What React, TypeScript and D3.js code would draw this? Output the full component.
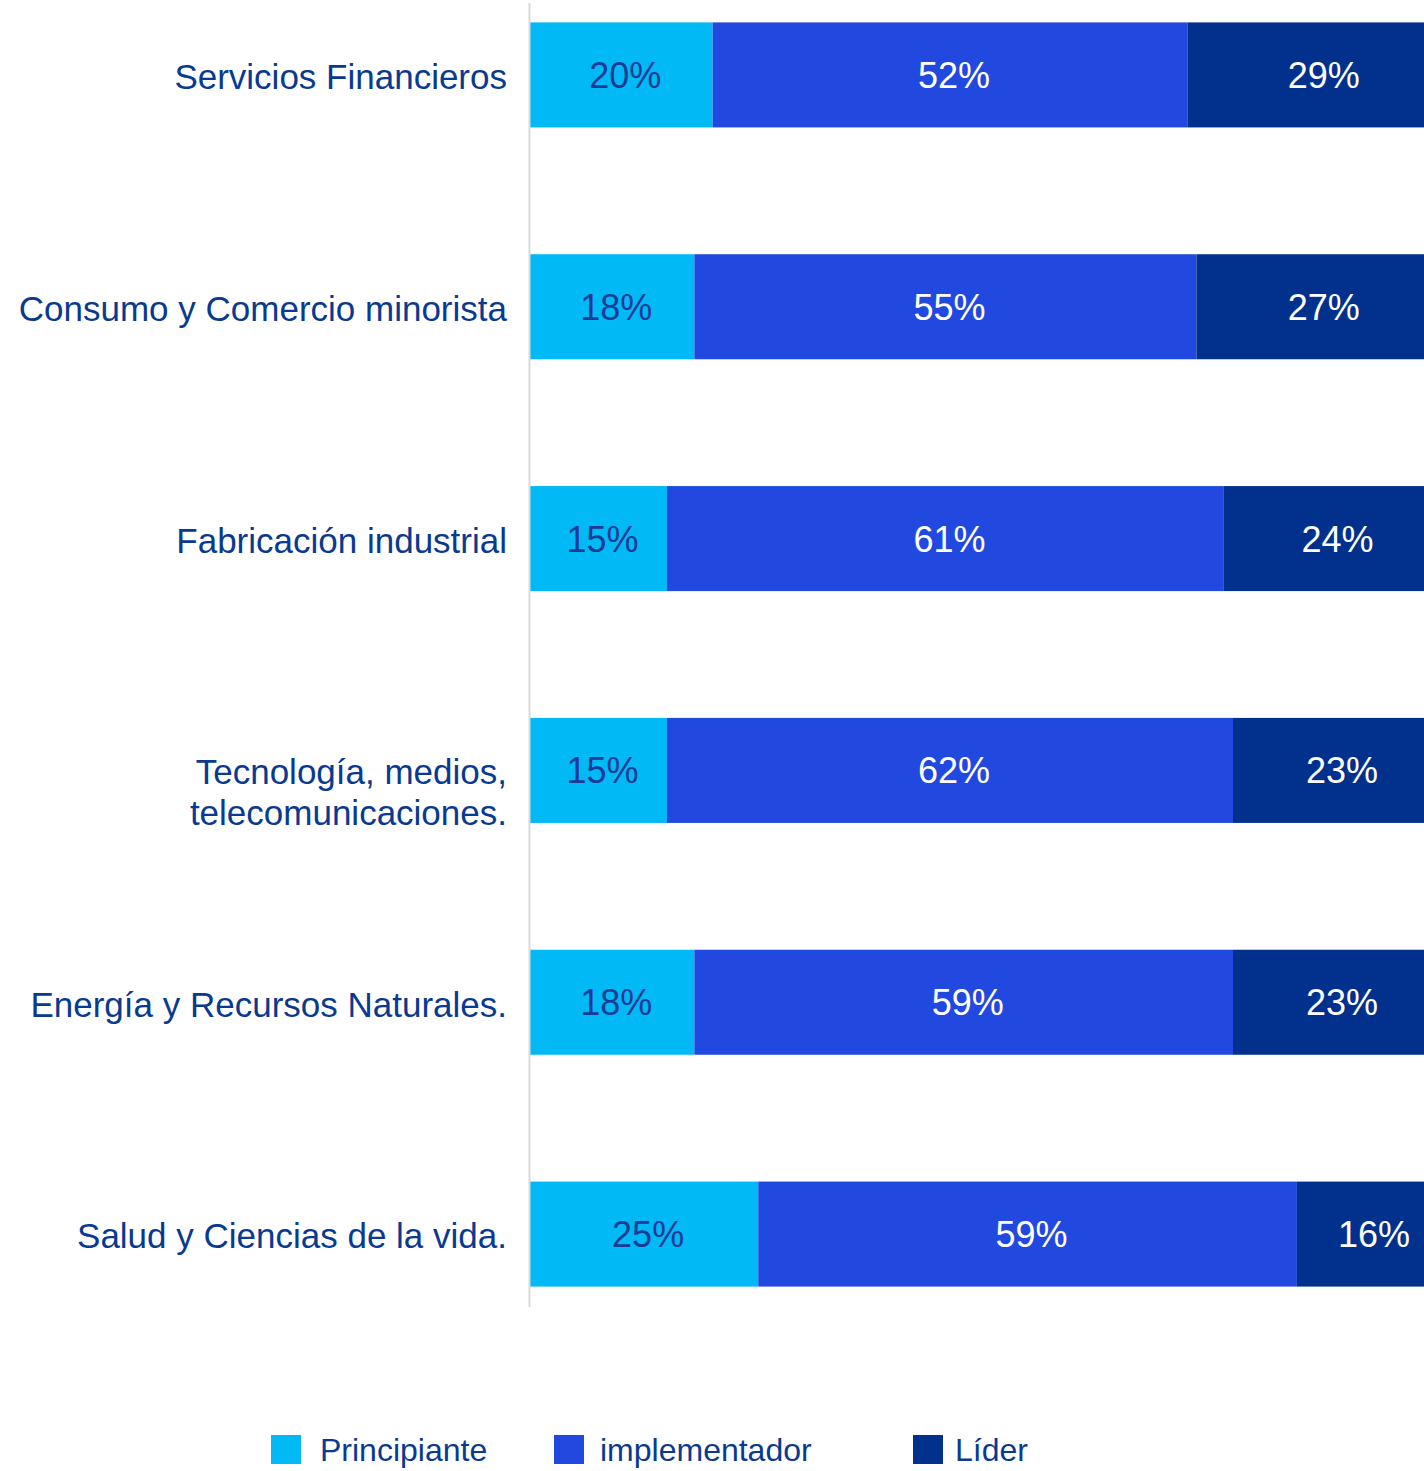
import React from "react";
import * as d3 from "d3";

const categories = [
  ["Servicios Financieros"],
  ["Consumo y Comercio minorista"],
  ["Fabricación industrial"],
  ["Tecnología, medios,", "telecomunicaciones."],
  ["Energía y Recursos Naturales."],
  ["Salud y Ciencias de la vida."],
];
const principiante = [20, 18, 15, 15, 18, 25];
const implementador = [52, 55, 61, 62, 59, 59];
const lider = [29, 27, 24, 23, 23, 16];
const seriesNames = ["Principiante", "implementador", "Líder"];
const colors = ["#00b9f5", "#2149e0", "#01318c"];
const textColors = ["#1a3c96", "#ffffff", "#ffffff"];
const labelColor = "#0a3a8f";

export default function App() {
  const W = 1424, H = 1471;
  const keys = categories.map((c) => c.join(" "));
  const rows = keys.map((k, i) => ({ key: k, s0: principiante[i], s1: implementador[i], s2: lider[i] }));
  const stack = d3.stack<any>().keys(["s0", "s1", "s2"])(rows);
  const x = d3.scaleLinear().domain([0, 100]).range([530, 1443]);
  const y = d3.scaleBand().domain(keys).range([-41, 1350]).paddingInner(0.547).paddingOuter(0.2735);
  const bw = y.bandwidth();
  const font = "'Liberation Sans', Arial, sans-serif";
  const legendX = [271, 554, 913];
  const legendTextX = [320, 600, 955];

  return (
    <div style={{ position: "absolute", left: 0, top: 0 }}>
      <svg width={W} height={H} style={{ display: "block", background: "#fff" }} fontFamily={font}>
        {stack.map((layer, si) => (
          <g key={si}>
            {layer.map((d, i) => {
              const x0 = x(d[0]), x1 = x(d[1]);
              const yy = y(keys[i])!;
              return (
                <g key={i}>
                  <rect x={x0} y={yy} width={x1 - x0} height={bw} fill={colors[si]} />
                  <text
                    x={(x0 + x1) / 2 + 4}
                    y={yy + bw / 2}
                    dy="0.36em"
                    textAnchor="middle"
                    fontSize={36}
                    fill={textColors[si]}
                  >
                    {`${d[1] - d[0]}%`}
                  </text>
                </g>
              );
            })}
          </g>
        ))}
        <line x1={529.5} x2={529.5} y1={3} y2={1307} stroke="#d9d9d9" strokeWidth={2} />
        {categories.map((lines, i) => {
          const n = lines.length;
          const cy = y(keys[i])! + bw / 2 + (n > 1 ? 22 : 2);
          const lh = 41;
          return (
            <text key={i} x={507} textAnchor="end" fontSize={35} fill={labelColor}>
              {lines.map((ln, j) => (
                <tspan key={j} x={507} y={cy + (j - (n - 1) / 2) * lh} dy="0.35em">
                  {ln}
                </tspan>
              ))}
            </text>
          );
        })}
        {seriesNames.map((nm, i) => (
          <g key={nm}>
            <rect x={legendX[i]} y={1435} width={30} height={29} fill={colors[i]} />
            <text x={legendTextX[i]} y={1461} fontSize={32} fill={labelColor}>
              {nm}
            </text>
          </g>
        ))}
      </svg>
    </div>
  );
}
